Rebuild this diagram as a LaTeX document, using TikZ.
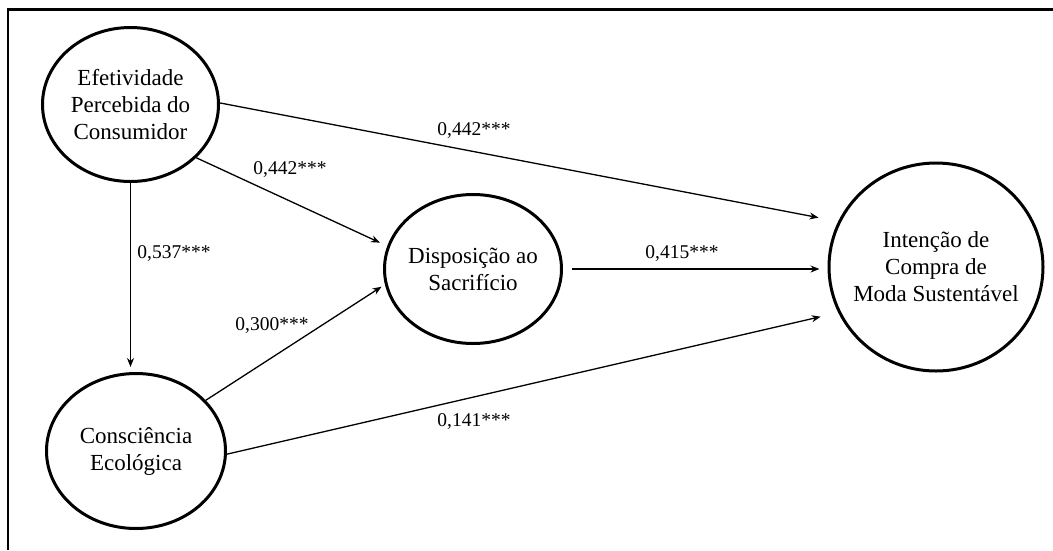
\documentclass[tikz,border=0pt]{standalone}
\usepackage{fontspec}
\setmainfont{Liberation Serif}
\usetikzlibrary{shapes.geometric,arrows.meta}
\begin{document}
\begin{tikzpicture}[x=1pt,y=-1pt,
  latent/.style={ellipse,draw,line width=3pt,inner sep=-25pt,align=center,
    font=\fontsize{23}{27}\selectfont},
  coef/.style={font=\fontsize{19.5}{23}\selectfont,inner sep=0pt},
  arr/.style={line width=1.3pt,-{Stealth[length=9pt,width=7pt]}}]
\useasboundingbox (0,0) rectangle (1053,550);
\draw[line width=2.5pt] (8,550) -- (8,9.5) -- (1053,9.5);

\node[latent,minimum width=176pt,minimum height=154pt] (efet) at (130.5,104.5)
  {Efetividade\\Percebida do\\Consumidor};
\node[latent,minimum width=179pt,minimum height=155pt] (consc) at (136,451)
  {Consciência\\Ecológica};
\node[latent,minimum width=177pt,minimum height=149pt] (disp) at (473,269)
  {Disposição ao\\Sacrifício};
\node[latent,minimum width=214pt,minimum height=208pt] (int) at (936,267)
  {Intenção de\\Compra de\\Moda Sustentável};

\draw[arr,shorten >=20pt] (efet.1) -- (int.155);
\draw[arr,shorten >=8pt] (efet.-39) -- (disp.165.7);
\draw[arr,shorten >=5pt] (efet.south) -- (efet.south |- consc.north);
\draw[arr,shorten >=4pt] (consc.36) -- (disp.-170.6);
\draw[arr,shorten >=18pt] (consc.-2.5) -- (int.-155.8);
\draw[arr,shorten <=9pt,shorten >=8pt] (disp.east) -- (disp.east -| int.west);

\node[coef] (c1) at (474,131) {0,442***};
\node[coef] (c2) at (290,170) {0,442***};
\node[coef] (c3) at (174,254) {0,537***};
\node[coef] (c4) at (272,326) {0,300***};
\node[coef] (c5) at (682,254) {0,415***};
\node[coef] (c6) at (474,422) {0,141***};
\end{tikzpicture}
\end{document}
